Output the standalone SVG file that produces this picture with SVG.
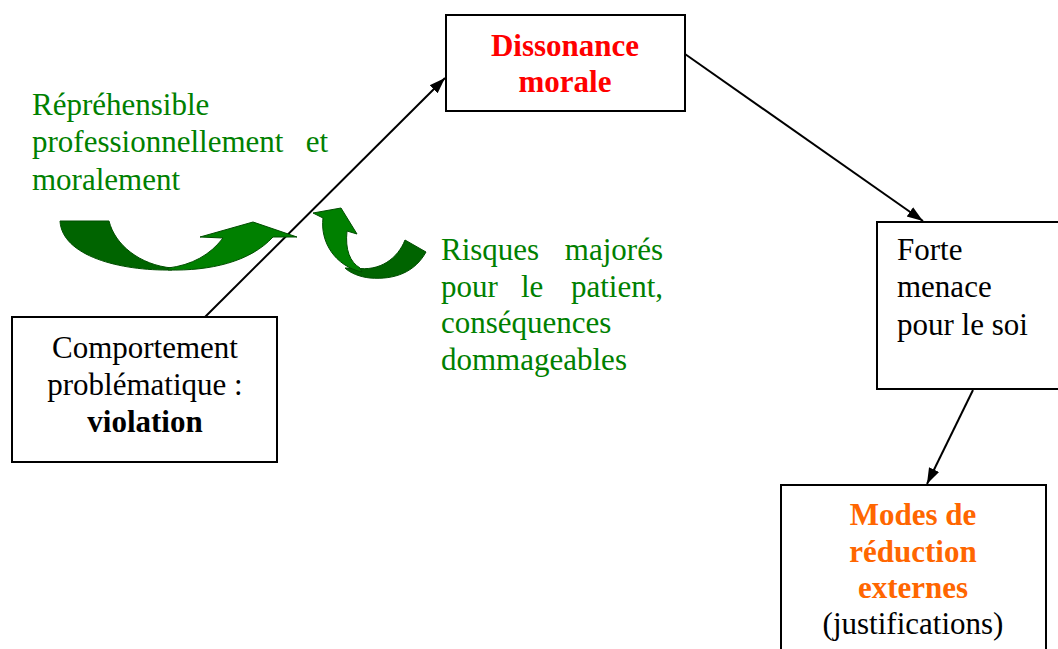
<svg xmlns="http://www.w3.org/2000/svg" width="1058" height="649" viewBox="0 0 1058 649">
<style>
.box{fill:#fff;stroke:#000;stroke-width:2}
.t{font-family:"Liberation Serif","Times New Roman",serif;font-size:31px}
.b{font-weight:bold}
.g{fill:#008000}
.c{text-anchor:middle}
.conn{stroke:#000;stroke-width:2;fill:none}
.gl{fill:#008000;stroke:#004d00;stroke-width:1}
.gd{fill:#006400;stroke:#004d00;stroke-width:1}
</style>
<defs>
<marker id="ah" viewBox="0 0 10 10" refX="10" refY="5" markerWidth="9" markerHeight="9" markerUnits="userSpaceOnUse" orient="auto">
<path d="M0,0 L10,5 L0,10 Z" fill="#000"/>
</marker>
<marker id="ah2" viewBox="0 0 10 10" refX="10" refY="5" markerWidth="16" markerHeight="16" markerUnits="userSpaceOnUse" orient="auto">
<path d="M0,1.5 L10,5 L0,8.5 Z" fill="#000"/>
</marker>
</defs>
<rect width="1058" height="649" fill="#fff"/>

<g id="connectors">
<line class="conn" x1="205" y1="317" x2="445" y2="78" marker-end="url(#ah2)"/>
<line class="conn" x1="685" y1="54" x2="923" y2="221" marker-end="url(#ah2)"/>
<line class="conn" x1="973" y1="390" x2="927" y2="484" marker-end="url(#ah2)"/>
</g>

<g id="node-dissonance">
<rect class="box" x="446" y="15" width="239" height="96"/>
<text class="t b c" x="565" y="56" fill="#ff0000">Dissonance</text>
<text class="t b c" x="565" y="92" fill="#ff0000">morale</text>
</g>

<g id="node-comportement">
<rect class="box" x="12" y="317" width="265" height="145"/>
<text class="t c" x="145" y="358">Comportement</text>
<text class="t c" x="145" y="395">problématique :</text>
<text class="t b c" x="145" y="432">violation</text>
</g>

<g id="node-forte">
<rect class="box" x="877" y="222" width="200" height="167"/>
<text class="t" x="897" y="260">Forte</text>
<text class="t" x="897" y="297">menace</text>
<text class="t" x="897" y="335">pour le soi</text>
</g>

<g id="node-modes">
<rect class="box" x="781" y="485" width="265" height="180"/>
<text class="t b c" x="913" y="525" fill="#ff6600">Modes de</text>
<text class="t b c" x="913" y="562" fill="#ff6600">réduction</text>
<text class="t b c" x="913" y="598" fill="#ff6600">externes</text>
<text class="t c" x="913" y="634">(justifications)</text>
</g>

<g id="label-reprehensible">
<text class="t g" x="32" y="115">Répréhensible</text>
<text class="t g" x="32" y="152">professionnellement</text>
<text class="t g" x="328" y="152" text-anchor="end">et</text>
<text class="t g" x="32" y="190">moralement</text>
</g>

<g id="label-risques">
<text class="t g" x="441" y="260">Risques</text>
<text class="t g" x="663" y="260" text-anchor="end">majorés</text>
<text class="t g" x="441" y="297">pour</text>
<text class="t g" x="521" y="297">le</text>
<text class="t g" x="663" y="297" text-anchor="end">patient,</text>
<text class="t g" x="441" y="333">conséquences</text>
<text class="t g" x="441" y="370">dommageables</text>
</g>

<g id="green-arrow-left">
<path class="gd" d="M60,221 L109,221 C115,245 140,265 172,268 L172,270 C120,271 62,256 60,221 Z"/>
<path class="gl" d="M168,270 C210,271 250,262 273,237 L297,237 L253,222 L200,237 L223,238 C210,255 192,265 168,268 Z"/>
</g>

<g id="green-arrow-right">
<path class="gd" d="M356,268 C380,272 398,258 405,240 L426,252 C415,272 395,280 370,278 C360,277 350,273 345,268 Z"/>
<path class="gl" d="M362,272 C335,266 320,242 323,218 L313,213 L341,208 L357,234 L347,231 C345,250 350,262 360,268 Z"/>
</g>
</svg>
